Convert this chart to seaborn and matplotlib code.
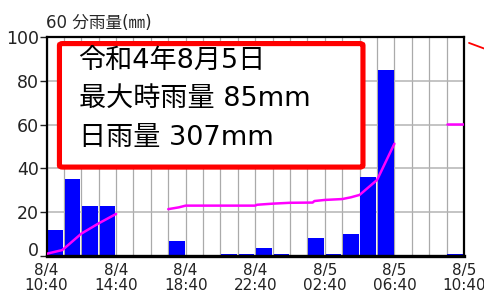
import matplotlib
matplotlib.use("Agg")
import matplotlib.pyplot as plt
import matplotlib.patches as mpatches
import seaborn as sns
import pandas as pd

# ---- data ----
bar_hours = list(range(24))  # hours after 8/4 10:40 (bar start)
rain_60min = [12, 35, 23, 23, 0, 0, 0, 7, 0, 0, 1, 1, 3.5, 1, 0, 8, 1, 10, 36, 85, 0, 0, 0, 1]

line_hours = [0, 0.9, 1.1, 2, 3, 4,
              7, 7.6, 8, 12, 12.1, 13, 14, 15.3, 15.4, 16, 17, 17.5, 18, 19, 20,
              23, 24]
line_values = [1.0, 2.7, 4.0, 10.2, 14.9, 19.2,
               21.4, 22.2, 23.0, 23.0, 23.4, 23.9, 24.3, 24.4, 25.1, 25.6, 26.0, 26.8, 27.9, 34.7, 51.3,
               60.4, 60.4]
line_segment = [1] * 6 + [2] * 15 + [3] * 2

tick_hours = [0, 4, 8, 12, 16, 20, 24]
tick_labels = ["8/4\n10:40", "8/4\n14:40", "8/4\n18:40", "8/4\n22:40",
               "8/5\n02:40", "8/5\n06:40", "8/5\n10:40"]
y_ticks = [0, 20, 40, 60, 80, 100]

ylabel_text = "60 分雨量(㎜)"
box_lines = ["令和4年8月5日", "最大時雨量 85mm", "日雨量 307mm"]

# ---- style ----
sns.set_style("white")
plt.rcParams['font.family'] = ['DejaVu Sans', 'Noto Sans CJK JP']

bars_df = pd.DataFrame({"center": [h + 0.5 for h in bar_hours], "rain": rain_60min})
line_df = pd.DataFrame({"hour": line_hours, "value": line_values, "segment": line_segment})

fig = plt.figure(figsize=(4.85, 2.94), dpi=100)
ax = fig.add_axes([46.5 / 485, 1 - 256 / 294, 417.5 / 485, 219 / 294])

sns.barplot(data=bars_df, x="center", y="rain", native_scale=True, width=0.9,
            color="#0000ff", saturation=1, linewidth=0, ax=ax, zorder=2)
sns.lineplot(data=line_df, x="hour", y="value", units="segment", estimator=None,
             color="#ff00ff", linewidth=1.8, ax=ax, zorder=3, legend=False)

ax.set_xlim(0, 24)
ax.set_ylim(0, 100)
ax.set_xticks(tick_hours)
ax.set_xticklabels(tick_labels, fontsize=11, linespacing=1.0)
ax.set_xticks(range(25), minor=True)
ax.set_yticks(y_ticks)
ax.set_yticklabels([str(v) for v in y_ticks], fontsize=12.5)
ax.get_yticklabels()[0].set_verticalalignment('baseline')
ax.tick_params(axis='x', which='major', length=2, width=1, pad=3, colors='#222222')
ax.tick_params(axis='x', which='minor', length=0)
ax.tick_params(axis='y', which='major', length=5, width=1, pad=0.5, colors='#222222', left=True)

ax.set_axisbelow(True)
ax.grid(axis='x', which='both', color='#aaaaaa', linewidth=0.9)
ax.grid(axis='y', which='major', color='#b4b4b4', linewidth=1.1)

for side in ['top', 'right', 'left']:
    ax.spines[side].set_color('black')
    ax.spines[side].set_linewidth(1.6)
ax.spines['bottom'].set_color('black')
ax.spines['bottom'].set_linewidth(2.4)

ax.set_xlabel("")
ax.set_ylabel(ylabel_text, rotation=0, ha='left', va='center', fontsize=12)
ax.yaxis.set_label_coords(0.0, 1.064)

# annotation box
box = mpatches.FancyBboxPatch((0.031, 0.406), 0.727, 0.564,
                              boxstyle="round,pad=0,rounding_size=0.008",
                              transform=ax.transAxes, facecolor='white',
                              edgecolor='#ff0000', linewidth=3.7, zorder=4)
ax.add_patch(box)
for yf, txt in zip([0.886, 0.715, 0.539], box_lines):
    ax.text(0.0767, yf, txt, transform=ax.transAxes, fontsize=19.5,
            ha='left', va='center', color='black', zorder=5)

# stray red fragment at top right (outside axes)
ax.plot([1.012, 1.06], [0.973, 0.939], transform=ax.transAxes, color='#ff0000',
        linewidth=1.3, clip_on=False)

fig.savefig("out.png", dpi=100)
